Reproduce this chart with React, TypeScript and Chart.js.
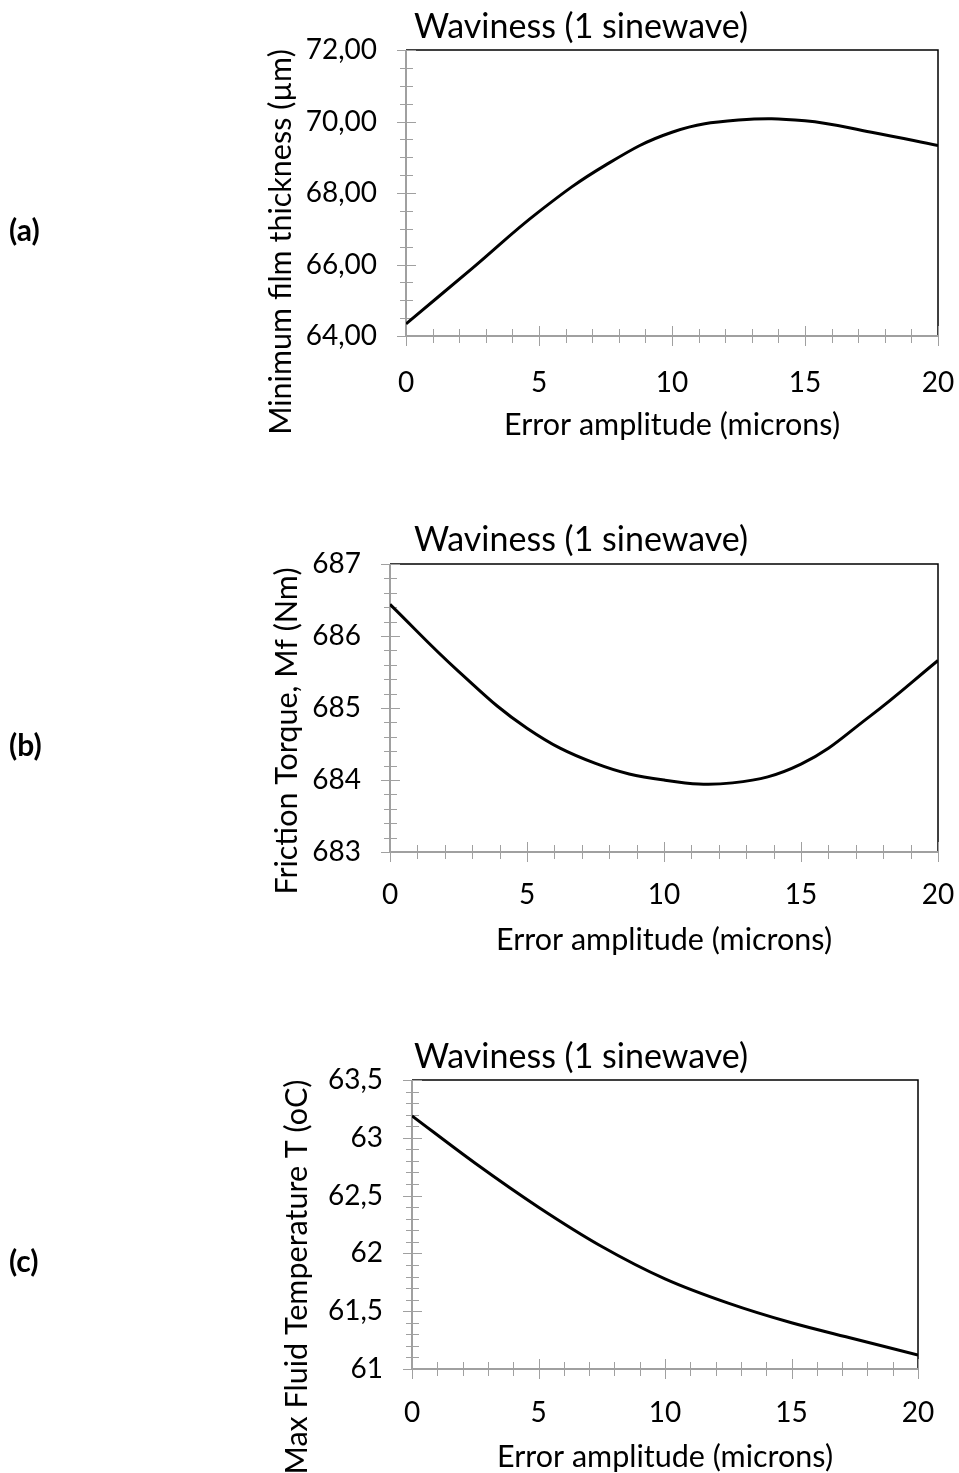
import React, { useEffect, useRef } from 'react';
import { Chart, registerables } from 'chart.js';

Chart.register(...registerables);

const FONT = 'Lato, "Open Sans", sans-serif';

// ---- data ----
const errorAmplitude = [0, 2.5, 5, 7.5, 10, 12.5, 15, 17.5, 20];
const filmThickness = [64.34, 65.9, 67.48, 68.78, 69.7, 70.04, 70.02, 69.7, 69.33];
const frictionTorque = [686.44, 685.51, 684.72, 684.23, 684.0, 683.96, 684.22, 684.88, 685.66];
const maxTemperature = [63.19, 62.78, 62.4, 62.06, 61.78, 61.57, 61.4, 61.26, 61.12];

const chartTitle = 'Waviness (1 sinewave)';
const xAxisTitle = 'Error amplitude (microns)';
const yAxisTitles = ['Minimum film thickness (µm)', 'Friction Torque, Mf (Nm)', 'Max Fluid Temperature T (oC)'];
const panelLabels = ['(a)', '(b)', '(c)'];

const yMins = [64, 683, 61];
const yMaxs = [72, 687, 63.5];
const yMajorSteps = [2, 1, 0.5];
const yMinorSteps = [0.5, 0.2, 0.1];
const yDecimals = [2, 0, 1];
const seriesList = [filmThickness, frictionTorque, maxTemperature];
const monotoneCurves = [false, false, true];

// ---- layout (page pixels) ----
const panels = [
  { top: 0, height: 480, plotL: 406, plotR: 938, plotT: 50, plotB: 336, titleY: 27, xTitleY: 425, yTitleX: 281, yTitleY: 242, labelY: 231, xPad: 22 },
  { top: 480, height: 510, plotL: 390, plotR: 938, plotT: 564, plotB: 852, titleY: 540, xTitleY: 940, yTitleX: 287, yTitleY: 731, labelY: 746, xPad: 18 },
  { top: 990, height: 483, plotL: 412, plotR: 918, plotT: 1080, plotB: 1369, titleY: 1057, xTitleY: 1457, yTitleX: 297, yTitleY: 1277, labelY: 1262, xPad: 19 },
];
const PAGE_W = 959;
const Y_W = 150;
const X_H = 100;
const TICK_SIZE = 28;

function fmt(v: number, dec: number) {
  if (dec === 2) return v.toFixed(2).replace('.', ',');
  if (dec === 0) return String(Math.round(v));
  const r = Math.round(v * 10) / 10;
  return Number.isInteger(r) ? String(r) : r.toFixed(1).replace('.', ',');
}

function Panel({ idx }: { idx: number }) {
  const ref = useRef<HTMLCanvasElement | null>(null);
  const p = panels[idx];
  useEffect(() => {
    const canvas = ref.current!;
    const t = p.top;
    const decor = {
      id: 'decor' + idx,
      beforeDatasetsDraw(chart: any) {
        const ctx = chart.ctx;
        const { left, right, top, bottom } = chart.chartArea;
        const xs = chart.scales.x;
        const ys = chart.scales.y;
        ctx.save();
        ctx.strokeStyle = '#000';
        ctx.lineWidth = 1.5;
        ctx.beginPath();
        ctx.moveTo(left, top);
        ctx.lineTo(right, top);
        ctx.lineTo(right, bottom);
        ctx.stroke();
        ctx.strokeStyle = '#a0a0a0';
        ctx.lineWidth = 2;
        ctx.beginPath();
        ctx.moveTo(left, top);
        ctx.lineTo(left, bottom);
        ctx.lineTo(right, bottom);
        ctx.stroke();
        ctx.lineWidth = 1;
        const ymin = yMins[idx], ymax = yMaxs[idx], ms = yMinorSteps[idx], Ms = yMajorSteps[idx];
        const n = Math.round((ymax - ymin) / ms);
        for (let i = 0; i <= n; i++) {
          const v = ymin + i * ms;
          const py = Math.round(ys.getPixelForValue(v)) + 0.5;
          const major = Math.abs(v / Ms - Math.round(v / Ms)) < 1e-6;
          ctx.beginPath();
          ctx.moveTo(left - (major ? 9 : 6), py);
          ctx.lineTo(left + (major ? 10 : 7), py);
          ctx.stroke();
        }
        for (let i = 0; i <= 20; i++) {
          const px = Math.round(xs.getPixelForValue(i)) + 0.5;
          const major = i % 5 === 0;
          ctx.beginPath();
          ctx.moveTo(px, bottom - (major ? 10 : 7));
          ctx.lineTo(px, bottom + (major ? 10 : 7));
          ctx.stroke();
        }
        ctx.restore();
      },
      afterDraw(chart: any) {
        const ctx = chart.ctx;
        const { left, right } = chart.chartArea;
        ctx.save();
        ctx.fillStyle = '#000';
        ctx.textBaseline = 'middle';
        ctx.textAlign = 'center';
        ctx.font = `34px ${FONT}`;
        ctx.fillText(chartTitle, 581, p.titleY - t);
        ctx.font = `30.5px ${FONT}`;
        ctx.fillText(xAxisTitle, (left + right) / 2, p.xTitleY - t);
        ctx.save();
        ctx.translate(p.yTitleX, p.yTitleY - t);
        ctx.rotate(-Math.PI / 2);
        ctx.fillText(yAxisTitles[idx], 0, 0);
        ctx.restore();
        ctx.font = `bold 30px ${FONT}`;
        ctx.textAlign = 'left';
        ctx.fillText(panelLabels[idx], 9, p.labelY - t);
        ctx.restore();
      },
    };
    const chart = new Chart(canvas, {
      type: 'line',
      data: {
        datasets: [
          {
            data: errorAmplitude.map((x, j) => ({ x, y: seriesList[idx][j] })),
            borderColor: '#000',
            borderWidth: 3,
            pointRadius: 0,
            tension: 0.4,
            cubicInterpolationMode: monotoneCurves[idx] ? 'monotone' : 'default',
            fill: false,
          },
        ],
      },
      options: {
        animation: false,
        responsive: false,
        devicePixelRatio: 1,
        layout: {
          padding: {
            left: p.plotL - Y_W,
            right: PAGE_W - p.plotR,
            top: p.plotT - t,
            bottom: p.height - (p.plotB - t) - X_H,
          },
        },
        plugins: { legend: { display: false }, tooltip: { enabled: false }, title: { display: false } },
        scales: {
          x: {
            type: 'linear',
            min: 0,
            max: 20,
            grid: { display: false },
            border: { display: false },
            ticks: { stepSize: 5, color: '#000', font: { family: FONT, size: TICK_SIZE }, padding: p.xPad, maxRotation: 0 },
            afterFit: (s: any) => {
              s.height = X_H;
              s.paddingLeft = 0;
              s.paddingRight = 0;
              s.paddingTop = 0;
              s.paddingBottom = 0;
            },
          },
          y: {
            type: 'linear',
            min: yMins[idx],
            max: yMaxs[idx],
            grid: { display: false },
            border: { display: false },
            ticks: {
              stepSize: yMajorSteps[idx],
              color: '#000',
              font: { family: FONT, size: TICK_SIZE },
              padding: 21,
              callback: (v: any) => fmt(Number(v), yDecimals[idx]),
            },
            afterFit: (s: any) => {
              s.width = Y_W;
              s.paddingLeft = 0;
              s.paddingRight = 0;
              s.paddingTop = 0;
              s.paddingBottom = 0;
            },
          },
        },
      },
      plugins: [decor],
    } as any);
    return () => chart.destroy();
  }, []);
  return (
    <canvas
      ref={ref}
      width={PAGE_W}
      height={p.height}
      style={{ position: 'absolute', left: 0, top: p.top, width: PAGE_W, height: p.height, display: 'block' }}
    />
  );
}

export default function App() {
  useEffect(() => {
    document.body.style.margin = '0';
  }, []);
  return (
    <div style={{ position: 'relative', width: PAGE_W, height: 1473, background: '#fff', overflow: 'hidden' }}>
      {panels.map((_, i) => (
        <Panel key={i} idx={i} />
      ))}
    </div>
  );
}
